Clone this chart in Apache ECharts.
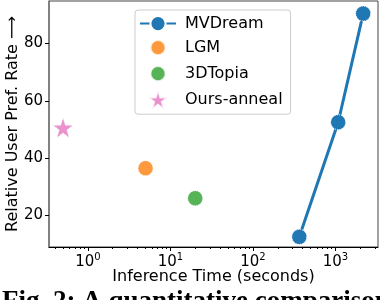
<!DOCTYPE html>
<html><head><meta charset="utf-8">
<script src="https://cdn.jsdelivr.net/npm/echarts@6/dist/echarts.min.js"></script>
<style>html,body{margin:0;padding:0;background:#fff}#c{width:380px;height:300px}</style>
</head><body><div id="c"></div>
<script>
const mvdreamX = [365, 1080, 2170];
const mvdreamY = [12.4, 52.5, 90.5];
const lgmX = [5];
const lgmY = [36.4];
const topiaX = [20];
const topiaY = [25.9];
const oursX = [0.5];
const oursY = [50.6];
const seriesNames = ['MVDream', 'LGM', '3DTopia', 'Ours-anneal'];
const xMajorTicks = [1, 10, 100, 1000];
const xMinorTicks = [0.4,0.5,0.6,0.7,0.8,0.9,2,3,4,5,6,7,8,9,20,30,40,50,60,70,80,90,200,300,400,500,600,700,800,900,2000,3000];
const yTicks = [20, 40, 60, 80];
const FONT = 'DejaVu Sans';
const zip = (a, b) => a.map((v, i) => [v, b[i]]);

const STAR = 'path://M50,0 L61.2,34.5 L97.6,34.5 L68.2,55.9 L79.4,90.5 L50,69.1 L20.6,90.5 L31.8,55.9 L2.4,34.5 L38.8,34.5 Z';
const PADDED_CIRCLE = 'path://M0,0 M100,100 M50,10 A40,40 0 1 1 49.99,10 Z';

const chart = echarts.init(document.getElementById('c'), null, {renderer: 'canvas'});
const mk = { borderColor: '#fff', borderWidth: 1, borderType: 'dotted' };
chart.setOption({
  animation: false,
  textStyle: { fontFamily: FONT },
  grid: { left: 49, right: 2, top: 1, bottom: 53, outerBoundsMode: 'none', containLabel: false,
          show: true, borderColor: '#444', borderWidth: 1, backgroundColor: 'transparent' },
  legend: {
    orient: 'vertical', left: 135, top: 10,
    padding: [5, 8, 4, 4], itemGap: 5,
    itemWidth: 36, itemHeight: 19,
    backgroundColor: '#fff', borderColor: '#ccc', borderWidth: 1, borderRadius: 3,
    textStyle: { fontSize: 16, color: '#000', fontFamily: FONT, padding: [0, 0, 0, 4] },
    data: [
      { name: seriesNames[0] },
      { name: seriesNames[1], icon: PADDED_CIRCLE },
      { name: seriesNames[2], icon: PADDED_CIRCLE },
      { name: seriesNames[3], icon: STAR }
    ]
  },
  xAxis: [{
    type: 'log', logBase: 10, min: 0.338, max: 3280,
    name: 'Inference Time (seconds)', nameLocation: 'middle', nameGap: 22, nameMoveOverlap: false,
    nameTextStyle: { fontSize: 16, color: '#000', fontFamily: FONT },
    axisLine: { show: true, lineStyle: { color: '#000', width: 1 } },
    axisTick: { show: true, length: 4, customValues: xMajorTicks, lineStyle: { color: '#000' } },
    axisLabel: {
      customValues: xMajorTicks, margin: 5, color: '#000',
      formatter: v => '{b|10}{s|' + Math.round(Math.log10(v)) + '}',
      rich: {
        b: { fontSize: 15, fontFamily: FONT, color: '#000', lineHeight: 18, verticalAlign: 'bottom' },
        s: { fontSize: 10, fontFamily: FONT, color: '#000', lineHeight: 18, verticalAlign: 'top' }
      }
    },
    splitLine: { show: false }
  }, {
    type: 'log', logBase: 10, min: 0.338, max: 3280, position: 'bottom',
    axisLine: { show: false },
    axisTick: { show: true, length: 2, customValues: xMinorTicks, lineStyle: { color: '#000' } },
    axisLabel: { show: false },
    splitLine: { show: false }
  }],
  yAxis: {
    type: 'value', min: 8.85, max: 94.9,
    name: 'Relative User Pref. Rate ⟶', nameLocation: 'middle', nameGap: 28, nameRotate: 90, nameMoveOverlap: false,
    nameTextStyle: { fontSize: 16, color: '#000', fontFamily: FONT },
    axisLine: { show: true, lineStyle: { color: '#777', width: 1.5 } },
    axisTick: { show: true, length: 4, customValues: yTicks, lineStyle: { color: '#000' } },
    axisLabel: { customValues: yTicks, fontSize: 15, color: '#000', margin: 6, fontFamily: FONT },
    splitLine: { show: false }
  },
  series: [
    { name: seriesNames[0], type: 'line', data: zip(mvdreamX, mvdreamY), symbol: 'circle', symbolSize: 15,
      lineStyle: { color: '#1f77b4', width: 3 }, itemStyle: Object.assign({ color: '#1f77b4' }, mk) },
    { name: seriesNames[1], type: 'scatter', data: zip(lgmX, lgmY), symbol: 'circle', symbolSize: 15,
      itemStyle: Object.assign({ color: '#ff7f0e' }, mk) },
    { name: seriesNames[2], type: 'scatter', data: zip(topiaX, topiaY), symbol: 'circle', symbolSize: 15,
      itemStyle: Object.assign({ color: '#2ca02c' }, mk) },
    { name: seriesNames[3], type: 'scatter', data: zip(oursX, oursY), symbol: STAR,
      symbolSize: 20, itemStyle: Object.assign({ color: '#e377c2' }, mk) }
  ],
  graphic: [{
    type: 'text', left: 2, top: 289,
    style: { text: 'Fig. 2: A quantitative comparison', font: 'bold 27px "Liberation Serif"', fill: '#000' }
  }]
});
</script></body></html>
